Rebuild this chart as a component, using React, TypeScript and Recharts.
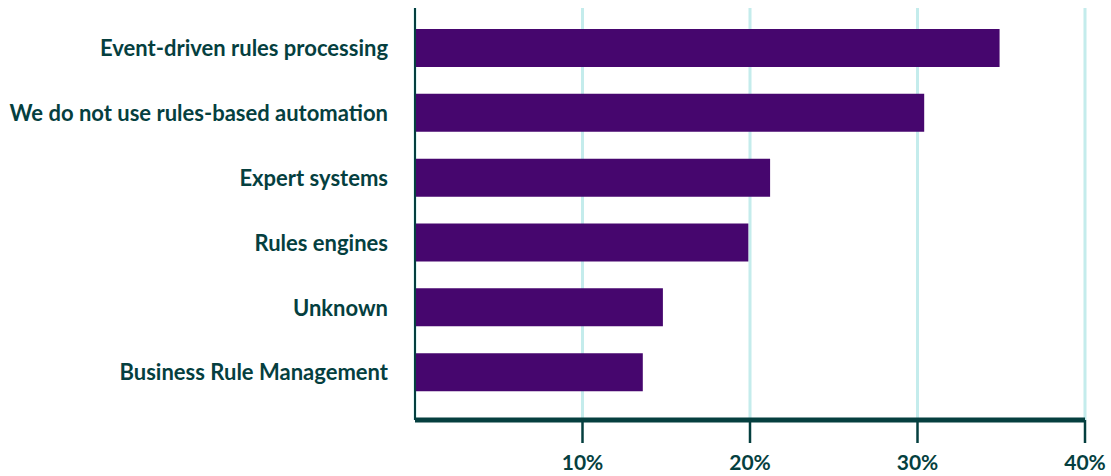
import { BarChart, Bar, XAxis, YAxis, CartesianGrid } from "recharts";

const categories = [
  "Event-driven rules processing",
  "We do not use rules-based automation",
  "Expert systems",
  "Rules engines",
  "Unknown",
  "Business Rule Management",
];
const shares = [34.9, 30.4, 21.2, 19.9, 14.8, 13.6];
const xTicks = [10, 20, 30, 40];

const data = categories.map((name, i) => ({ name, value: shares[i] }));

const TEXT = "#053f3f";
const font = "Lato, 'DejaVu Sans', sans-serif";

export default function App() {
  return (
    <div style={{ position: "absolute", left: 0, top: 0, width: 1111, height: 476, background: "#fff" }}>
      <BarChart
        width={1111}
        height={476}
        data={data}
        layout="vertical"
        margin={{ top: 8, right: 26, left: 0, bottom: 0 }}
      >
        <CartesianGrid horizontal={false} stroke="#c4ecec" strokeWidth={3} />
        <XAxis
          type="number"
          domain={[0, 40]}
          ticks={xTicks}
          height={56}
          tickFormatter={(v) => `${v}%`}
          axisLine={{ stroke: TEXT, strokeWidth: 5 }}
          tickLine={{ stroke: TEXT, strokeWidth: 2.5 }}
          tickSize={23}
          tickMargin={12}
          tick={{ fill: TEXT, fontSize: 21, fontWeight: 700, fontFamily: font }}
        />
        <YAxis
          type="category"
          dataKey="name"
          width={415}
          padding={{ top: 8, bottom: 15 }}
          axisLine={{ stroke: TEXT, strokeWidth: 2 }}
          tickLine={false}
          tickSize={0}
          tickMargin={27}
          tick={{ fill: TEXT, fontSize: 22, fontWeight: 700, fontFamily: font }}
        />
        <Bar dataKey="value" fill="#46066e" barSize={38} isAnimationActive={false} />
      </BarChart>
    </div>
  );
}
